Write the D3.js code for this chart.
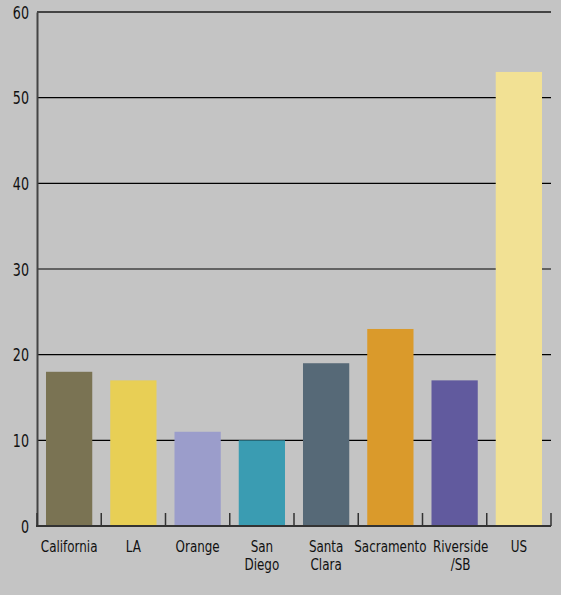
<!DOCTYPE html>
<html>
<head>
<meta charset="utf-8">
<script src="https://cdn.jsdelivr.net/npm/d3@7"></script>
<style>
  html, body { margin: 0; padding: 0; background: #c4c4c4; }
  svg { display: block; }
  text { font-family: "DejaVu Sans Condensed", "DejaVu Sans", sans-serif; fill: #111; }
</style>
</head>
<body>
<svg id="chart" width="561" height="595"></svg>
<script>
// Regions and their values
const categories = ["California", "LA", "Orange", "San Diego", "Santa Clara", "Sacramento", "Riverside /SB", "US"];
const categoryLines = [["California"], ["LA"], ["Orange"], ["San", "Diego"], ["Santa", "Clara"], ["Sacramento"], ["Riverside", "/SB"], ["US"]];
const values = [18, 17, 11, 10, 19, 23, 17, 53];
const barColors = ["#7a7353", "#e8cf55", "#9b9dcb", "#3a9cb2", "#566977", "#da9a2b", "#615a9e", "#f2e194"];
const yTicks = [0, 10, 20, 30, 40, 50, 60];

const svg = d3.select("#chart");
const margin = { left: 37, right: 10, top: 12, bottom: 69 };
const W = 561, H = 595;
const squeeze = 0.83; // horizontal condensing of label glyphs

const x = d3.scaleBand()
  .domain(categories)
  .range([margin.left, W - margin.right])
  .paddingInner(0.28)
  .paddingOuter(0.14);

const y = d3.scaleLinear()
  .domain([0, 60])
  .range([H - margin.bottom, margin.top]);

// Horizontal gridlines (inner ones black, top one as frame)
svg.append("g")
  .selectAll("line")
  .data(yTicks.filter(t => t > 0 && t < 60))
  .join("line")
  .attr("x1", margin.left)
  .attr("x2", W - margin.right)
  .attr("y1", d => y(d))
  .attr("y2", d => y(d))
  .attr("stroke", "#000")
  .attr("stroke-width", 1.2);

svg.append("line")
  .attr("x1", margin.left)
  .attr("x2", W - margin.right)
  .attr("y1", y(60))
  .attr("y2", y(60))
  .attr("stroke", "#444")
  .attr("stroke-width", 2);

// Bars
svg.append("g")
  .selectAll("rect")
  .data(values)
  .join("rect")
  .attr("x", (d, i) => x(categories[i]))
  .attr("width", x.bandwidth())
  .attr("y", d => y(d))
  .attr("height", d => y(0) - y(d))
  .attr("fill", (d, i) => barColors[i]);

// Y axis
const yAxis = d3.axisLeft(y).tickValues(yTicks).tickSize(0).tickPadding(0).tickFormat(() => "");
const gy = svg.append("g")
  .attr("transform", `translate(${margin.left},0)`)
  .call(yAxis);
gy.select(".domain").attr("stroke", "#444").attr("stroke-width", 2);
gy.selectAll(".tick").each(function(d) {
  d3.select(this).select("text").remove();
  d3.select(this).append("g")
    .attr("transform", `translate(-8,0) scale(${squeeze},1)`)
    .append("text")
    .attr("text-anchor", "end")
    .attr("dy", "0.36em")
    .style("font-size", "17px")
    .text(d);
});

// Baseline with category separator ticks pointing up
const bounds = d3.range(categories.length + 1).map(i => margin.left + i * (W - margin.right - margin.left) / categories.length);
svg.append("line")
  .attr("x1", margin.left - 1)
  .attr("x2", W - margin.right)
  .attr("y1", y(0))
  .attr("y2", y(0))
  .attr("stroke", "#333")
  .attr("stroke-width", 2);
svg.append("g")
  .selectAll("line")
  .data(bounds)
  .join("line")
  .attr("x1", d => d)
  .attr("x2", d => d)
  .attr("y1", y(0))
  .attr("y2", y(0) - 13)
  .attr("stroke", "#333")
  .attr("stroke-width", 1.5);

// Category labels; the long two-line label next to "Sacramento" is nudged right to keep clear of it
const labels = svg.append("g")
  .selectAll("g")
  .data(categories)
  .join("g")
  .attr("transform", (d, i) => {
    const nudge = i === 6 ? 6 : 0;
    return `translate(${x(d) + x.bandwidth() / 2 + nudge},${y(0) + 26}) scale(${squeeze},1)`;
  });
labels.each(function(d, i) {
  const t = d3.select(this).append("text")
    .attr("text-anchor", "middle")
    .style("font-size", "16px");
  categoryLines[i].forEach((line, j) => {
    t.append("tspan")
      .attr("x", 0)
      .attr("dy", j === 0 ? 0 : 18)
      .text(line);
  });
});
</script>
</body>
</html>
